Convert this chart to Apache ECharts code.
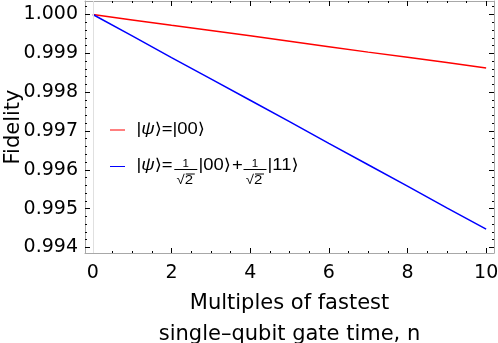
<!DOCTYPE html>
<html><head><meta charset="utf-8">
<script src="https://cdn.jsdelivr.net/npm/echarts@6/dist/echarts.min.js"></script>
<style>html,body{margin:0;padding:0;background:#fff}#c{width:498px;height:343px}</style>
</head><body><div id="c"></div>
<script>
// ---- data ----
const nValues = [0, 1, 2, 3, 4, 5, 6, 7, 8, 9, 10];
const fidelity00 = [1.00000, 0.99986, 0.99972, 0.99959, 0.99945, 0.99931, 0.99917, 0.99903, 0.99890, 0.99876, 0.99862];
const fidelityBell = [1.00000, 0.99945, 0.99889, 0.99834, 0.99779, 0.99724, 0.99668, 0.99613, 0.99558, 0.99502, 0.99447];
const seriesNames = ['|ψ⟩=|00⟩', '|ψ⟩=(1/√2)|00⟩+(1/√2)|11⟩'];
const xTickMin = 0, xTickMax = 10, xTickStep = 2;          // x tick labels 0,2,...,10
const yTickMin = 0.994, yTickMax = 1.000, yTickStep = 0.001; // y tick labels 0.994 ... 1.000
const xTitle = 'Multiples of fastest\nsingle–qubit gate time, n';
const yTitle = 'Fidelity';

// ---- layout / styling ----
const W = 498, H = 343;
const G = { left: 85, right: 4, top: 1, bottom: 90 };     // frame
const X_MIN = -0.2, X_MAX = 10.2, Y_MIN = 0.993856, Y_MAX = 1.000347;
const FONT = 'DejaVu Sans';
const FRAME = '#a8a8a8';
const INK = '#000';

const gw = W - G.left - G.right, gh = H - G.top - G.bottom;
const px = v => G.left + (v - X_MIN) / (X_MAX - X_MIN) * gw;
const py = v => G.top + (Y_MAX - v) / (Y_MAX - Y_MIN) * gh;

const grids = [
  { left: G.left, right: G.right, top: G.top, bottom: G.bottom },                                   // data + frame
  { left: px(xTickMin), right: W - px(xTickMax), top: G.top, bottom: G.bottom },                     // x ticks
  { left: G.left, right: G.right, top: py(yTickMax), bottom: H - py(yTickMin) },                     // y ticks
  { left: G.left, right: G.right, top: py(yTickMax + 0.0002), bottom: H - py(yTickMax) }             // last minor y tick
].map(g => Object.assign(g, { outerBoundsMode: 'none', containLabel: false }));

const hidden = gi => ({ type: 'value', gridIndex: gi, show: false, min: 0, max: 1 });
const frameLine = { show: true, onZero: false, lineStyle: { color: FRAME, width: 1 } };
const clearLine = { show: true, onZero: false, lineStyle: { color: 'rgba(0,0,0,0)', width: 1 } };
const tickStyle = { color: INK, width: 1 };

function xTickAxis(pos, labels) {
  return { type: 'value', gridIndex: 1, position: pos, min: xTickMin, max: xTickMax, interval: xTickStep,
    axisLine: clearLine, splitLine: { show: false },
    axisTick: { show: true, inside: true, length: 5, lineStyle: tickStyle },
    minorTick: { show: true, splitNumber: 4, length: 2, lineStyle: tickStyle },
    axisLabel: labels ? { show: true, margin: 11, color: INK, fontFamily: FONT, fontSize: 19, formatter: v => String(v) } : { show: false },
    name: labels ? xTitle : '', nameLocation: 'middle', nameGap: 34,
    nameTextStyle: { color: INK, fontFamily: FONT, fontSize: 21, lineHeight: 31 } };
}
function yTickAxis(pos, labels) {
  return { type: 'value', gridIndex: 2, position: pos, min: yTickMin, max: yTickMax, interval: yTickStep,
    axisLine: clearLine, splitLine: { show: false },
    axisTick: { show: true, inside: true, length: 5, lineStyle: tickStyle },
    minorTick: { show: true, splitNumber: 5, length: 2, lineStyle: tickStyle },
    axisLabel: labels ? { show: true, margin: 7, color: INK, fontFamily: FONT, fontSize: 19, formatter: v => v.toFixed(3) } : { show: false } };
}
function yTopMinor(pos) {
  return { type: 'value', gridIndex: 3, position: pos, min: yTickMax, max: yTickMax + 0.0002, interval: 0.0002,
    axisLine: clearLine, splitLine: { show: false }, axisLabel: { show: false },
    axisTick: { show: true, inside: true, length: 2, lineStyle: tickStyle } };
}

const xAxes = [
  { type: 'value', gridIndex: 0, position: 'bottom', min: X_MIN, max: X_MAX, axisLine: frameLine,
    axisTick: { show: false }, axisLabel: { show: false }, splitLine: { show: false } },
  { type: 'value', gridIndex: 0, position: 'top', min: X_MIN, max: X_MAX, axisLine: frameLine,
    axisTick: { show: false }, axisLabel: { show: false }, splitLine: { show: false } },
  xTickAxis('bottom', true),
  xTickAxis('top', false),
  hidden(2),
  hidden(3)
];
const yAxes = [
  { type: 'value', gridIndex: 0, position: 'left', min: Y_MIN, max: Y_MAX, axisLine: frameLine,
    axisTick: { show: false }, axisLabel: { show: false }, splitLine: { show: false },
    name: yTitle, nameLocation: 'middle', nameGap: 61,
    nameTextStyle: { color: INK, fontFamily: FONT, fontSize: 21 } },
  { type: 'value', gridIndex: 0, position: 'right', min: Y_MIN, max: Y_MAX, axisLine: frameLine,
    axisTick: { show: false }, axisLabel: { show: false }, splitLine: { show: false } },
  hidden(1),
  yTickAxis('left', true),
  yTickAxis('right', false),
  yTopMinor('left'),
  yTopMinor('right')
];

// ---- legend drawn as text pieces (fractions need manual layout) ----
const SX = 1.15;
const LF = '"Liberation Sans", "DejaVu Sans"';
function txt(x, y, text, size, align, rich) {
  return { type: 'text', x: x, y: y, scaleX: SX, silent: true, z: 10,
    style: { text: text, x: 0, y: 0, fill: INK, font: size + 'px ' + LF, fontSize: size, fontFamily: LF,
      textAlign: align || 'left', align: align || 'left', textVerticalAlign: 'middle', verticalAlign: 'middle',
      rich: rich || undefined } };
}
function seg(x1, y1, x2, y2, color) {
  return { type: 'line', silent: true, z: 10, shape: { x1: x1, y1: y1, x2: x2, y2: y2 }, style: { stroke: color, lineWidth: 1 } };
}
const psiRich = { i: { fontStyle: 'italic', fontSize: 16, fontFamily: LF } };
function frac(cx, barY) {
  return [
    txt(cx, barY - 5.5, '1', 10, 'center'),
    seg(cx - 11.5, barY, cx + 11.5, barY, INK),
    txt(cx - 1, barY + 10.5, '√2', 13, 'center'),
    seg(cx, barY + 4.5, cx + 9, barY + 4.5, INK)
  ];
}
const legendGraphics = [
  seg(110, 130, 125, 130, '#ff0000'),
  txt(136.5, 129.5, '|{i|ψ}⟩=|00⟩', 16, 'left', psiRich),
  seg(110, 166.5, 125, 166.5, '#0000ff'),
  txt(136.5, 165.5, '|{i|ψ}⟩=', 16, 'left', psiRich),
  ...frac(185.8, 169.5),
  txt(198.5, 165.5, '|00⟩', 16, 'left'),
  txt(232, 165.5, '+', 16, 'left'),
  ...frac(255, 169.5),
  txt(267.5, 165.5, '|11⟩', 16, 'left')
];

const chart = echarts.init(document.getElementById('c'), null, { renderer: 'canvas' });
chart.setOption({
  animation: false,
  backgroundColor: '#fff',
  grid: grids,
  xAxis: xAxes,
  yAxis: yAxes,
  series: [
    { name: seriesNames[0], type: 'line', xAxisIndex: 0, yAxisIndex: 0, showSymbol: false,
      lineStyle: { color: '#ff0000', width: 1.5 }, itemStyle: { color: '#ff0000' },
      data: nValues.map((n, i) => [n, fidelity00[i]]),
      markLine: { silent: true, symbol: 'none', label: { show: false },
        lineStyle: { color: '#e0e0e0', width: 1, type: 'solid' }, data: [{ xAxis: 0 }] } },
    { name: seriesNames[1], type: 'line', xAxisIndex: 0, yAxisIndex: 0, showSymbol: false,
      lineStyle: { color: '#0000ff', width: 1.5 }, itemStyle: { color: '#0000ff' },
      data: nValues.map((n, i) => [n, fidelityBell[i]]) }
  ],
  graphic: legendGraphics
});
</script></body></html>
